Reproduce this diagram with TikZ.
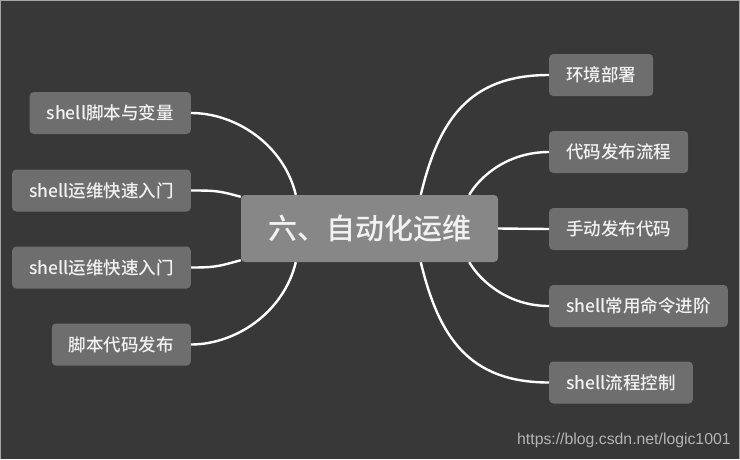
\documentclass[tikz,border=0pt]{standalone}
\usepackage{fontspec}
\setmainfont{Noto Sans CJK SC}[UprightFont={* Medium}]
\newfontfamily\urlfont{Liberation Sans}
\usepackage{xcolor}
\usepackage{tikz}
\usetikzlibrary{calc}
\definecolor{bgc}{HTML}{383838}
\definecolor{rootc}{HTML}{878787}
\definecolor{leafc}{HTML}{6E6E6E}
\definecolor{txtc}{HTML}{F2F2F2}
\definecolor{wmc}{HTML}{B4B4B4}

\begin{document}
\begin{tikzpicture}[x=1pt,y=-1pt,
root/.style={fill=rootc,rounded corners=4pt,text=txtc,font=\fontsize{29}{29}\selectfont,minimum height=67pt,inner xsep=27pt},
leaf/.style={fill=leafc,rounded corners=4pt,text=txtc,font=\fontsize{17.5}{17.5}\selectfont,minimum height=42pt,inner xsep=17pt},
link/.style={draw=white,line width=2.4pt}]
\useasboundingbox(0,0)rectangle(740,459);
\fill[bgc](0,0)rectangle(740,459);
\draw[gray!70,line width=2pt](0,459)--(0,0)--(740,0)--(740,459);
\node[root](main)at(369.5,228.5){六、自动化运维};
\node[leaf,anchor=east](sv)at(191,113){shell脚本与变量};
\node[leaf,anchor=east](kr1)at(191,190.5){shell运维快速入门};
\node[leaf,anchor=east](kr2)at(191,267.5){shell运维快速入门};
\node[leaf,anchor=east](dmfb)at(191,344.5){脚本代码发布};
\node[leaf,anchor=west](hjbs)at(549,75){环境部署};
\node[leaf,anchor=west](fblc)at(549,152){代码发布流程};
\node[leaf,anchor=west](sdfb)at(549,229){手动发布代码};
\node[leaf,anchor=west](cyml)at(549,306){shell常用命令进阶};
\node[leaf,anchor=west](lckz)at(549,382.5){shell流程控制};
\draw[link]($(main.north west)+(55,0)$)..controls +(-12,-50) and +(45,0)..(sv.east);
\draw[link]($(main.north west)+(0,2)$)..controls +(-22,-6) and +(25,0)..(kr1.east);
\draw[link]($(main.south west)+(0,-2)$)..controls +(-22,6) and +(25,0)..(kr2.east);
\draw[link]($(main.south west)+(55,0)$)..controls +(-12,50) and +(45,0)..(dmfb.east);
\draw[link]($(main.north west)+(180,0)$)..controls +(18,-75) and +(-80,0)..(hjbs.west);
\draw[link]($(main.north east)+(-29,0)$)..controls +(12,-20) and +(-40,0)..(fblc.west);
\draw[link](main.east)--(sdfb.west);
\draw[link]($(main.south east)+(-29,0)$)..controls +(12,20) and +(-40,0)..(cyml.west);
\draw[link]($(main.south west)+(180,0)$)..controls +(18,75) and +(-80,0)..(lckz.west);
\node[anchor=west,inner sep=0,text=wmc,font=\urlfont\fontsize{15.8}{16}\selectfont](wm)at(517,440){https://blog.csdn.net/logic1001};
\end{tikzpicture}
\end{document}
